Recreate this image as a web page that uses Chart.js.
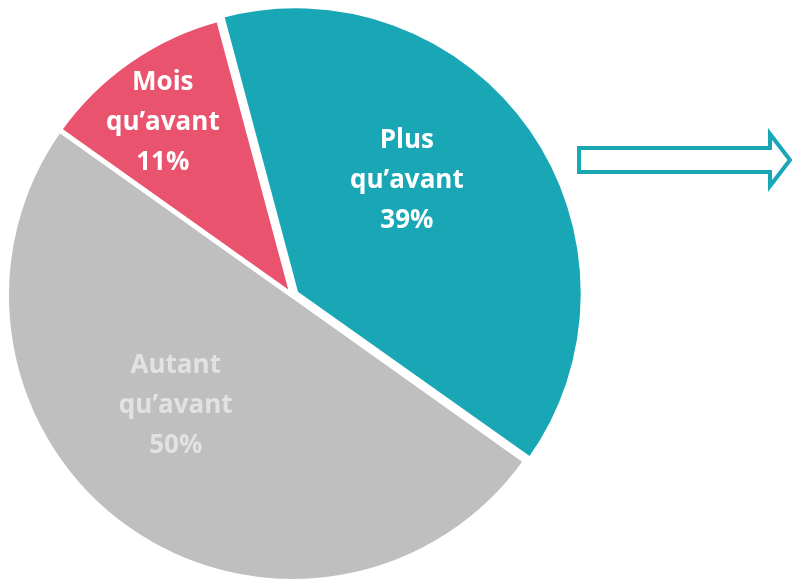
<!DOCTYPE html>
<html lang="fr">
  <head>
    <meta charset="UTF-8" />
    <script src="https://cdn.jsdelivr.net/npm/chart.js"></script>
    <style>
      html, body { margin: 0; padding: 0; background: #fff; }
      #mainChart { width: 793px; height: 580px; }
    </style>
  </head>
  <body>
    <div id="mainChart">
      <canvas id="myChart"></canvas>
    </div>

    <script>
      // data
      const categories = ["Plus qu’avant", "Autant qu’avant", "Mois qu’avant"];
      const labelLines = [["Plus", "qu’avant"], ["Autant", "qu’avant"], ["Mois", "qu’avant"]];
      const values = [39, 50, 11];
      const colors = ["#19a7b6", "#bfbfbf", "#e9536e"];
      const textColors = ["#ffffff", "#e2e2e2", "#ffffff"];

      // label placement: angle shift (deg) from slice middle, distance as fraction of radius
      const labelAngleShift = [-10.7, 11.4, -2];
      const labelDist = [0.554, 0.56, 0.757];

      const sliceLabels = {
        id: "sliceLabels",
        afterDatasetsDraw(chart) {
          const c = chart.ctx;
          const meta = chart.getDatasetMeta(0);
          c.save();
          c.font = "bold 26px 'Open Sans'";
          c.textAlign = "center";
          c.textBaseline = "middle";
          meta.data.forEach((arc, i) => {
            const p = arc.getProps(["x", "y", "startAngle", "endAngle", "outerRadius"], true);
            const off = (arc.options.offset || 0) / 4;
            const mid = (p.startAngle + p.endAngle) / 2;
            const a = mid + (labelAngleShift[i] * Math.PI) / 180;
            const cx = p.x + Math.cos(mid) * off + Math.cos(a) * p.outerRadius * labelDist[i];
            const cy = p.y + Math.sin(mid) * off + Math.sin(a) * p.outerRadius * labelDist[i];
            const lines = labelLines[i].concat([values[i] + "%"]);
            c.fillStyle = textColors[i];
            lines.forEach((t, j) => {
              c.fillText(t, cx, cy + (j - 1) * 40);
            });
          });
          c.restore();
        },
      };

      const arrow = {
        id: "arrow",
        afterDraw(chart) {
          const c = chart.ctx;
          c.save();
          c.strokeStyle = "#19a7b6";
          c.lineWidth = 4;
          c.lineJoin = "miter";
          c.beginPath();
          c.moveTo(579, 148);
          c.lineTo(770, 148);
          c.lineTo(770, 134);
          c.lineTo(790, 160);
          c.lineTo(770, 186);
          c.lineTo(770, 172);
          c.lineTo(579, 172);
          c.closePath();
          c.stroke();
          c.restore();
        },
      };

      const ctx = document.getElementById("myChart");
      const myChart = new Chart(ctx, {
        type: "pie",
        data: {
          labels: categories,
          datasets: [
            {
              data: values,
              backgroundColor: colors,
              borderColor: "#ffffff",
              borderWidth: 5,
              offset: [16, 0, 0],
            },
          ],
        },
        options: {
          responsive: true,
          maintainAspectRatio: false,
          animation: false,
          rotation: -15,
          radius: 286,
          layout: { padding: { left: 0, right: 208, top: 11, bottom: 0 } },
          plugins: {
            legend: { display: false },
            tooltip: { enabled: false },
          },
        },
        plugins: [sliceLabels, arrow],
      });
    </script>
  </body>
</html>
